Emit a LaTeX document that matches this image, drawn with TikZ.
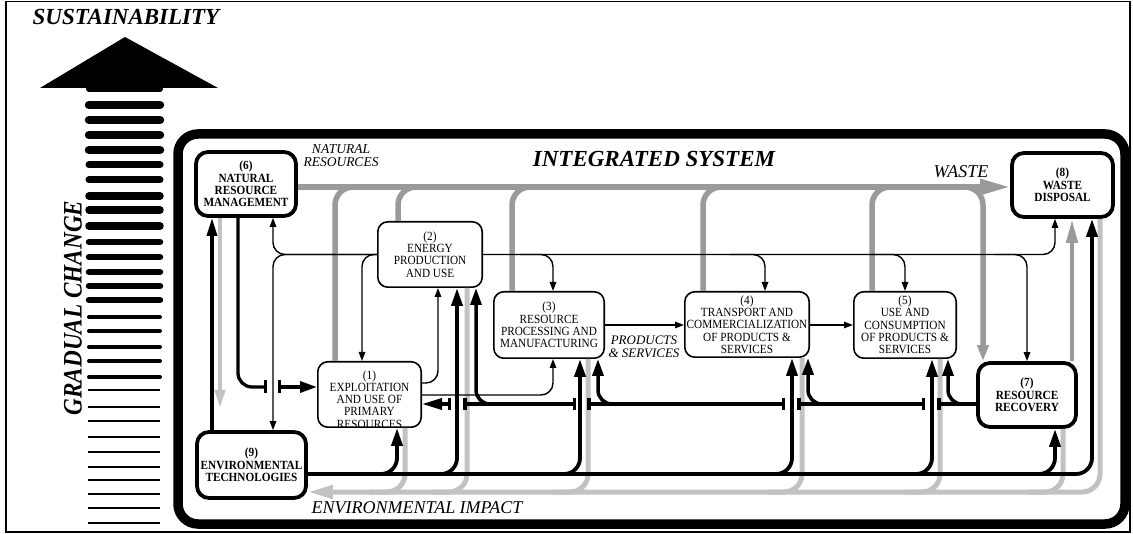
\documentclass[tikz,border=0pt]{standalone}
\usepackage{fontspec}
\setmainfont{Liberation Serif}
\newfontfamily\condfont[FakeStretch=0.9]{Liberation Serif}
\usetikzlibrary{arrows.meta}
\definecolor{midgrey}{HTML}{9A9A9A}
\definecolor{ltgrey}{HTML}{C2C2C2}
\newcommand\bxfont{\condfont\fontsize{12.5}{12.3}\selectfont}
\tikzset{tick/.tip={Bar[width=12pt]}}
\begin{document}
\begin{tikzpicture}[x=1pt,y=-1pt,
 box/.style={draw, line width=1.6pt, rounded corners=10pt, fill=white, align=center, font=\bxfont, inner sep=0pt},
 bbox/.style={box, line width=3.8pt, rounded corners=12pt, font=\bxfont\bfseries},
 thinarr/.style={line width=1.4pt, rounded corners=12pt, -{Triangle[length=9pt,width=6.5pt]}},
 blkarr/.style={line width=3.8pt, rounded corners=16pt, -{Triangle[length=18pt,width=11pt]}},
 mid/.style={line width=3.5pt, rounded corners=14pt},
 midarr/.style={mid, -{Triangle[length=17pt,width=11pt]}},
 gbus/.style={draw=midgrey, line width=5.5pt, rounded corners=18pt},
 lbus/.style={draw=ltgrey, line width=5pt, rounded corners=18pt},
 titlefont/.style={font=\fontsize{23}{23}\selectfont\bfseries\itshape},
 labfont/.style={font=\fontsize{18}{18}\selectfont\itshape}
]
\useasboundingbox (0,0) rectangle (1133,534);
% frame
\draw[line width=1.2pt] (6,1.5) rectangle (1130,532);
% integrated system border
\draw[line width=9.5pt, rounded corners=20pt] (178,134) rectangle (1125,524);
% sustainability arrow
\fill (40,88) -- (125,37) -- (218,88) -- cycle;
\draw[line width=6pt, line cap=round] (89,89) -- (160,89);
\foreach \yy/\ww in {105/8.5,120/8.5,135/8.5,150/8.5,165/7,180/7,196/7.5,210/7.5,226/7.5,242/6.5,257/6.5,272/6.5,286/6.5,300/6.5,317/4,331/4,347/4,361/4,377/4}
  \draw[line width=\ww pt, line cap=round] (89,\yy) -- (160,\yy);
\foreach \yy in {390,407,421,437,452,467,480,494,508,523}
  \draw[line width=1.6pt] (88,\yy) -- (160,\yy);
\node[titlefont] (sust) at (126,17) {SUSTAINABILITY};
\node[font=\fontsize{23.2}{23.2}\selectfont\bfseries\itshape, rotate=90] (grad) at (73,308) {\scalebox{1}[1.15]{GRADUAL CHANGE}};
\node[titlefont] (integ) at (654,159) {INTEGRATED SYSTEM};
% boxes
\node[bbox, minimum width=100pt, minimum height=64pt] (b6) at (246,184) {(6)\\NATURAL\\RESOURCE\\MANAGEMENT};
\node[bbox, minimum width=109pt, minimum height=66pt] (b9) at (251.5,465) {(9)\\ENVIRONMENTAL\\TECHNOLOGIES};
\node[font=\bxfont, align=center, anchor=south, inner sep=0pt, text depth=0pt] (t1) at (369.5,428.5) {(1)\\EXPLOITATION\\AND USE OF\\PRIMARY\\RESOURCES};
\node[box, fill=none, minimum width=103.4pt, minimum height=65.4pt] (b1) at (369.5,394.5) {};
\node[box, minimum width=104.4pt, minimum height=65.4pt] (b2) at (430,254.5) {(2)\\ENERGY\\PRODUCTION\\AND USE};
\node[box, minimum width=110.4pt, minimum height=66.4pt] (b3) at (549,325) {(3)\\RESOURCE\\PROCESSING AND\\MANUFACTURING};
\node[box, minimum width=124.4pt, minimum height=65.4pt] (b4) at (747,324.5) {(4)\\TRANSPORT AND\\COMMERCIALIZATION\\OF PRODUCTS \&\\SERVICES};
\node[box, minimum width=102.4pt, minimum height=66.4pt] (b5) at (905,325) {(5)\\USE AND\\CONSUMPTION\\OF PRODUCTS \&\\SERVICES};
\node[bbox, minimum width=101pt, minimum height=64pt] (b8) at (1062.5,185) {(8)\\WASTE\\DISPOSAL};
\node[bbox, minimum width=98pt, minimum height=64pt] (b7) at (1027,395) {(7)\\RESOURCE\\RECOVERY};
% grey: natural resources / waste
\draw[gbus, -{Triangle[length=30pt,width=15pt]}] (b6.east |- 0,187) -- (b8.west |- 0,187);
\foreach \xx/\bb in {335/b1,398/b2,512/b3,703/b4,872/b5}
  \draw[gbus] (\xx,0 |- \bb.north) -- (\xx,187) -- (\xx+35,187);
\draw[gbus, -{Triangle[length=16pt,width=11pt]}] (945,187) -- (983,187) -- (983,0 |- b7.north);
\draw[gbus, line width=4.5pt, -{Triangle[length=24pt,width=11pt]}] (1072,0 |- b7.north) -- (1072,0 |- b8.south);
% light grey: environmental impact
\draw[lbus, -{Triangle[length=25pt,width=13pt]}] (1100,0 |- b8.south) -- (1100,492) -- (b9.east |- 0,492);
\foreach \xx/\bb in {405/b1,467/b2,588/b3,802/b4,940/b5,1063/b7}
  \draw[lbus] (\xx,0 |- \bb.south) -- (\xx,492) -- (\xx-35,492);
\draw[lbus, line width=4pt, -{Triangle[length=18pt,width=10pt]}] (220,0 |- b6.south) -- (220,408);
% thin black: energy
\draw[thinarr] (b2.west) -- (273,254.5) -- (273,0 |- b6.south);
\draw[thinarr] (b2.west) -- (273,254.5) -- (273,0 |- b9.north);
\draw[thinarr] (b2.west) -- (362,254.5) -- (362,0 |- b1.north);
\draw[thinarr] (b2.east) -- (1055,254.5) -- (1055,0 |- b8.south);
\draw[thinarr] (520,254.5) -- (553,254.5) -- (553,0 |- b3.north);
\draw[thinarr] (730,254.5) -- (765,254.5) -- (765,0 |- b4.north);
\draw[thinarr] (870,254.5) -- (905,254.5) -- (905,0 |- b5.north);
\draw[thinarr] (995,254.5) -- (1027,254.5) -- (1027,0 |- b7.north);
\draw[thinarr] (b1.east |- 0,383) -- (438,383) -- (438,0 |- b2.south);
\draw[thinarr] (b1.east |- 0,395) -- (553,395) -- (553,0 |- b3.south);
\draw[thinarr] (b3.east |- 0,325) -- (b4.west |- 0,325);
\draw[thinarr] (b4.east |- 0,325) -- (b5.west |- 0,325);
% thick black left
\draw[line width=3.3pt, rounded corners=14pt, -{Bar[width=13pt]}] (238,0 |- b6.south) -- (238,387) -- (267,387);
\draw[line width=3.3pt, {Bar[width=13pt]}-{Triangle[length=17pt,width=11pt]}] (278,387) -- (b1.west |- 0,387);
\draw[line width=3.3pt, -{Triangle[length=18pt,width=10pt]}] (212,0 |- b9.north) -- (212,0 |- b6.south);
% bottom black bus (environmental technologies)
\draw[blkarr] (b9.east |- 0,474) -- (1092,474) -- (1092,0 |- b8.south);
\foreach \xx/\bb in {397/b1,457/b2,580/b3,792/b4,932/b5,1055/b7}
  \draw[blkarr] (\xx-40,474) -- (\xx,474) -- (\xx,0 |- \bb.south);
% middle black bus (resource recovery)
\draw[mid, -{tick}] (b7.west |- 0,404) -- (937,404);
\draw[mid, {tick}-{tick}] (925,404) -- (797,404);
\draw[mid, {tick}-{tick}] (785,404) -- (587,404);
\draw[mid, {tick}-{tick}] (576,404) -- (463,404);
\draw[mid, {tick}-{Triangle[length=20pt,width=11pt]}] (451,404) -- (b1.east |- 0,404);
\foreach \xx/\bb/\st in {948/b5/975,808/b4/840,598/b3/630,476/b2/510}
  \draw[midarr] (\st,404) -- (\xx,404) -- (\xx,0 |- \bb.south);
% labels
\node[font=\fontsize{13.5}{13}\selectfont\itshape, align=center] (natres) at (341,155.5) {NATURAL\\RESOURCES};
\node[labfont] (waste) at (961,172) {WASTE};
\node[labfont] (envimp) at (417,508) {ENVIRONMENTAL IMPACT};
\node[font=\fontsize{13}{12.5}\selectfont\itshape, align=center] (prod) at (644,347) {PRODUCTS\\\& SERVICES};
\end{tikzpicture}
\end{document}
